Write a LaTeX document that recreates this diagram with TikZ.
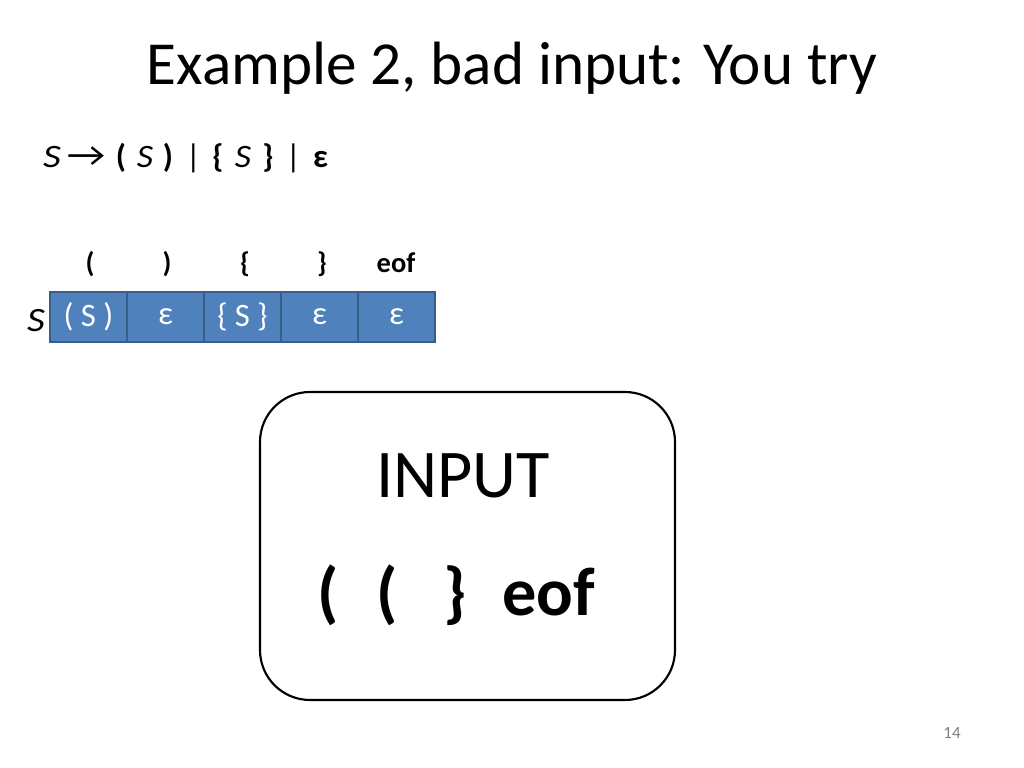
\documentclass[tikz,border=0pt]{standalone}
\usepackage{fontspec}
\setmainfont{Carlito}
\begin{document}
\begin{tikzpicture}[x=0.703125pt,y=-0.703125pt,
  cell/.style={draw=cellborder,fill=cellblue,line width=1.2pt,minimum width=77*0.703125pt,minimum height=50*0.703125pt,inner sep=0pt,text=white,font=\fontsize{23}{27}\selectfont},
  hdr/.style={anchor=base,font=\fontsize{20}{24}\selectfont\bfseries,inner sep=0pt},
  gr/.style={anchor=base,font=\fontsize{23}{28}\selectfont,inner sep=0pt},
  inp/.style={anchor=base,font=\fontsize{48}{58}\selectfont\bfseries,inner sep=0pt}]
\definecolor{cellblue}{HTML}{4F81BD}
\definecolor{cellborder}{HTML}{385D8A}
\useasboundingbox (0,0) rectangle (1024,768);
\fill[white] (0,0) rectangle (1024,768);
\node[anchor=base,inner sep=0pt,font=\fontsize{43}{52}\selectfont] (title) at (512,85) {Example 2, bad input: You try};
% grammar line
\node[gr] (g1) at (52,168) {\scalebox{1.2}[1]{\textit{S}}};
\node[gr] (g2) at (86,167) {\scalebox{1.3}[1.05]{→}};
\node[gr] (g3) at (121,168) {\textbf{(}};
\node[gr] (g4) at (145,168) {\scalebox{1.1}[1]{\textit{S}}};
\node[gr] (g5) at (168,168) {\textbf{)}};
\node[gr] (g6) at (193.5,168) {|};
\node[gr] (g7) at (218,168) {\textbf{\{}};
\node[gr] (g8) at (243,168) {\scalebox{1.1}[1]{\textit{S}}};
\node[gr] (g9) at (268,168) {\textbf{\}}};
\node[gr] (g10) at (293.5,168) {|};
\node[gr] (g11) at (320.5,168) {\textbf{ε}};
% table
\node[hdr] (h1) at (90,273) {(};
\node[hdr] (h2) at (167,273) {)};
\node[hdr] (h3) at (245,273) {\{};
\node[hdr] (h4) at (322,273) {\}};
\node[hdr] (h5) at (396,273) {eof};
\node[anchor=base,inner sep=0pt,font=\fontsize{24}{29}\selectfont\itshape] (slab) at (36,332) {\scalebox{1.15}[1]{S}};
\node[cell] (c1) at (88.5,317) {( S )};
\node[cell] (c2) at (165.5,317) {ε};
\node[cell] (c3) at (242.5,317) {\{ S \}};
\node[cell] (c4) at (319.5,317) {ε};
\node[cell] (c5) at (396.5,317) {ε};
% input box
\node[draw=black,line width=1.5pt,rounded corners=50*0.703125pt,minimum width=415*0.703125pt,minimum height=308*0.703125pt,inner sep=0pt] (box) at (467.5,546) {};
\node[anchor=base,inner sep=0pt,font=\fontsize{48}{58}\selectfont] (input) at (463,497) {INPUT};
\node[inp] (i1) at (328,615) {(};
\node[inp] (i2) at (387,615) {(};
\node[inp] (i3) at (455,615) {\}};
\node[inp,anchor=base west] (i4) at (502,615) {eof};
\node[inner sep=0pt,text=gray,font=\fontsize{12}{14}\selectfont] (pg) at (952,733) {14};
\end{tikzpicture}
\end{document}
